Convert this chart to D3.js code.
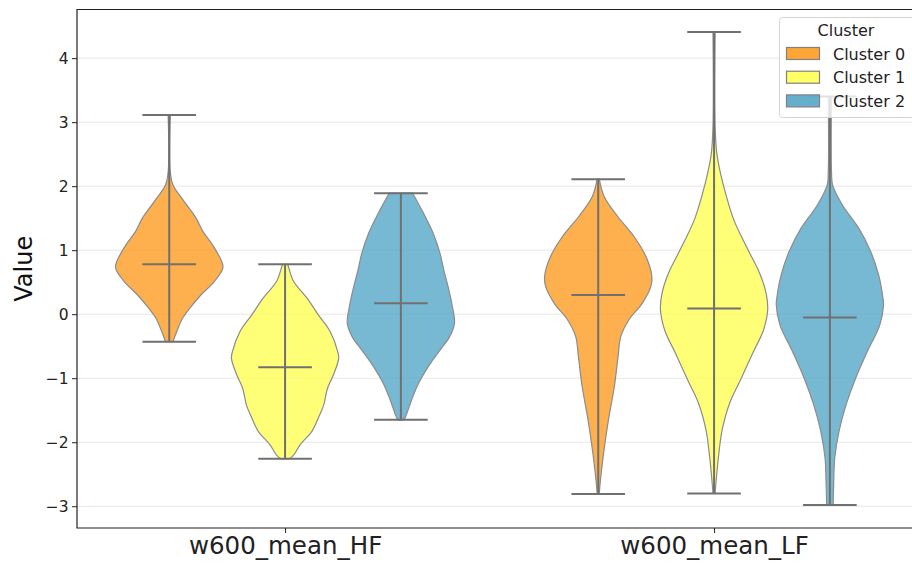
<!DOCTYPE html>
<html lang="en">
<head>
<meta charset="UTF-8">
<title>Violin plot by cluster</title>
<script src="https://d3js.org/d3.v7.min.js"></script>
<style>
    body { margin: 0; background: #fff; }
    svg { display: block; font-family: "DejaVu Sans", sans-serif; }
    .grid line { stroke: #e6e6e6; stroke-width: 1; }
    .axis text { fill: #222; font-size: 15.5px; font-family: "DejaVu Sans", sans-serif; }
    .axis path, .axis line { stroke: #222; }
    .violin { stroke: #8c8c8c; stroke-width: 1.2; }
    .stat { stroke: #707070; stroke-width: 2; }
</style>
</head>
<body>
<div id="chart"></div>
<script>
    // data
    const features = ["w600_mean_HF", "w600_mean_LF"];
    const clusters = ["Cluster 0", "Cluster 1", "Cluster 2"];
    const clusterColors = ["#fd9c20", "#ffff55", "#55a6c7"];
    const yTicks = [-3, -2, -1, 0, 1, 2, 3, 4];

    // per feature: [cluster0, cluster1, cluster2]
    const mins = [[-0.43, -2.26, -1.65], [-2.81, -2.80, -2.98]];
    const maxs = [[3.11, 0.78, 1.89], [2.11, 4.41, 3.40]];
    const means = [[0.78, -0.83, 0.17], [0.30, 0.09, -0.05]];

    // density profiles: [value, relative width]
    const hfC0 = [[3.11, 0.02], [2.22, 0.02], [2.02, 0.07], [1.76, 0.28], [1.50, 0.50], [1.29, 0.63],
        [1.08, 0.81], [0.82, 0.98], [0.72, 1.0], [0.51, 0.84], [0.30, 0.59], [0.09, 0.38],
        [-0.06, 0.25], [-0.27, 0.14], [-0.43, 0.07]];
    const hfC1 = [[0.78, 0.05], [0.72, 0.07], [0.51, 0.16], [0.25, 0.41], [-0.01, 0.62], [-0.27, 0.84],
        [-0.58, 0.98], [-0.69, 1.0], [-0.95, 0.90], [-1.16, 0.79], [-1.42, 0.72], [-1.62, 0.62],
        [-1.83, 0.50], [-2.04, 0.28], [-2.20, 0.16], [-2.26, 0.08]];
    const hfC2 = [[1.89, 0.22], [1.58, 0.42], [1.27, 0.60], [0.95, 0.73], [0.69, 0.80], [0.43, 0.88],
        [0.12, 0.96], [-0.14, 1.0], [-0.35, 0.91], [-0.56, 0.73], [-0.82, 0.51], [-1.08, 0.33],
        [-1.34, 0.20], [-1.55, 0.11], [-1.65, 0.06]];
    const lfC0 = [[2.11, 0.02], [1.84, 0.11], [1.53, 0.36], [1.21, 0.67], [0.90, 0.89], [0.59, 1.0],
        [0.43, 0.98], [0.17, 0.82], [-0.09, 0.57], [-0.35, 0.42], [-0.66, 0.37], [-1.13, 0.30],
        [-1.65, 0.19], [-2.17, 0.10], [-2.69, 0.03], [-2.81, 0.02]];
    const lfC1 = [[4.41, 0.02], [2.93, 0.02], [2.52, 0.05], [2.20, 0.12], [1.84, 0.23], [1.47, 0.37],
        [1.06, 0.60], [0.64, 0.85], [0.33, 0.97], [0.07, 1.0], [-0.25, 0.92], [-0.61, 0.72],
        [-1.03, 0.49], [-1.39, 0.29], [-1.81, 0.15], [-2.17, 0.09], [-2.59, 0.04], [-2.80, 0.02]];
    const lfC2 = [[3.40, 0.03], [2.23, 0.03], [2.02, 0.05], [1.71, 0.23], [1.34, 0.54], [0.98, 0.76],
        [0.61, 0.91], [0.25, 0.99], [0.15, 1.0], [-0.17, 0.93], [-0.58, 0.70], [-1.00, 0.48],
        [-1.42, 0.30], [-1.83, 0.17], [-2.25, 0.09], [-2.67, 0.07], [-2.98, 0.06]];
    const profiles = [[hfC0, hfC1, hfC2], [lfC0, lfC1, lfC2]];

    const W = 912, H = 564;
    const margin = { top: 9.5, right: 0, bottom: 36, left: 77 };
    const plotBottom = H - margin.bottom;

    const svg = d3.select("#chart").append("svg")
        .attr("width", W).attr("height", H);

    const x = d3.scaleLinear().domain([-0.485, 1.5]).range([77, 77 + 1.985 * 429]);
    const y = d3.scaleLinear().domain([-3.34, 4.76]).range([plotBottom, margin.top]);
    const offset = 0.27, vWidth = 0.25;
    const half = x(vWidth / 2) - x(0);
    const capHalf = x(vWidth / 4) - x(0);

    // gridlines
    svg.append("g").attr("class", "grid")
        .selectAll("line").data(yTicks).enter().append("line")
        .attr("x1", margin.left).attr("x2", W)
        .attr("y1", d => y(d)).attr("y2", d => y(d));

    const area = d3.area()
        .curve(d3.curveCatmullRom.alpha(0.5))
        .y(d => y(d[0]));

    features.forEach((f, fi) => {
        clusters.forEach((c, ci) => {
            const cx = x(fi + (ci - 1) * offset);
            const g = svg.append("g");
            g.append("path")
                .attr("class", "violin")
                .attr("fill", clusterColors[ci])
                .attr("fill-opacity", 0.8)
                .attr("d", area.x0(d => cx - d[1] * half).x1(d => cx + d[1] * half)(profiles[fi][ci]));
            // center bar, extrema and mean
            g.append("line").attr("class", "stat")
                .attr("x1", cx).attr("x2", cx)
                .attr("y1", y(mins[fi][ci])).attr("y2", y(maxs[fi][ci]));
            [mins[fi][ci], maxs[fi][ci], means[fi][ci]].forEach(v => {
                g.append("line").attr("class", "stat")
                    .attr("x1", cx - capHalf).attr("x2", cx + capHalf)
                    .attr("y1", y(v)).attr("y2", y(v));
            });
        });
    });

    // axes
    svg.append("g").attr("class", "axis")
        .attr("transform", `translate(${margin.left},0)`)
        .call(d3.axisLeft(y).tickValues(yTicks).tickSize(5).tickPadding(3.5)
            .tickFormat(d => d < 0 ? "\u2212" + Math.abs(d) : d))
        .call(g => g.select(".domain").remove());

    const xAxis = svg.append("g").attr("class", "axis")
        .attr("transform", `translate(0,${plotBottom})`)
        .call(d3.axisBottom(x).tickValues([0, 1]).tickSize(5).tickPadding(4)
            .tickFormat(d => features[d]))
        .call(g => g.select(".domain").remove());
    xAxis.selectAll("text").style("font-size", "24.5px");

    // frame (left, top, bottom)
    svg.append("path")
        .attr("d", `M${W},${margin.top}H${margin.left}V${plotBottom}H${W}`)
        .attr("fill", "none").attr("stroke", "#222").attr("stroke-width", 1.2);

    svg.append("text")
        .attr("transform", `translate(32,${(margin.top + plotBottom) / 2}) rotate(-90)`)
        .attr("text-anchor", "middle")
        .style("font-size", "24px").attr("fill", "#111")
        .text("Value");

    // legend
    const legend = svg.append("g");
    legend.append("rect")
        .attr("x", 779.5).attr("y", 17.5).attr("width", 150).attr("height", 100)
        .attr("rx", 3).attr("fill", "#fff").attr("fill-opacity", 0.8)
        .attr("stroke", "#d5d5d5");
    legend.append("text")
        .attr("x", 846).attr("y", 36).attr("text-anchor", "middle")
        .style("font-size", "16px").attr("fill", "#222").text("Cluster");
    clusters.forEach((c, i) => {
        const yy = 54 + i * 23.7;
        legend.append("rect")
            .attr("x", 786.5).attr("y", yy - 6.5).attr("width", 33).attr("height", 12)
            .attr("fill", clusterColors[i]).attr("fill-opacity", 0.9)
            .attr("stroke", "#808080").attr("stroke-width", 1.2);
        legend.append("text")
            .attr("x", 833).attr("y", yy + 5.5)
            .style("font-size", "16px").attr("fill", "#222").text(c);
    });
</script>
</body>
</html>
